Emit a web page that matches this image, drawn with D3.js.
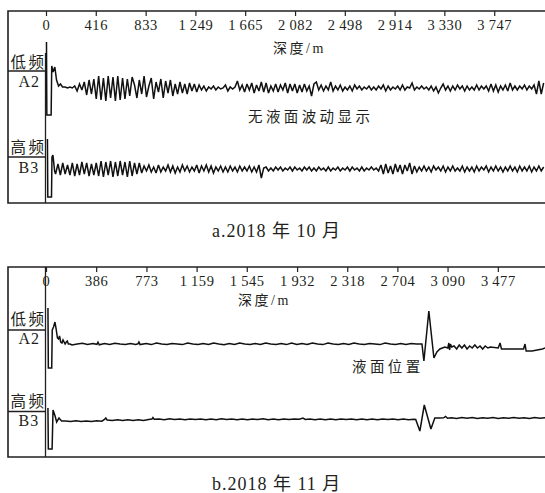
<!DOCTYPE html>
<html>
<head>
<meta charset="utf-8">
<script src="https://cdn.jsdelivr.net/npm/d3@7"></script>
<style>
    body { margin: 0; background: #fff; }
    svg { display: block; }
</style>
</head>
<body>
<svg id="chart"></svg>
<script>
const W = 545, H = 493;
const INK = "#231f20";
const SERIF = '"Liberation Serif", "Noto Sans CJK SC", serif';

// depth tick labels (m)
const ticksOct = [0, 416, 833, 1249, 1665, 2082, 2498, 2914, 3330, 3747];
const ticksNov = [0, 386, 773, 1159, 1545, 1932, 2318, 2704, 3090, 3477];

// Oct 2018, low freq A2: first part as [depth m, amplitude], then samples every 20 m from 160 m
const octA2Head = [[4, 46], [7, -27], [43, -27], [48, 22], [59, 16], [74, 21], [88, 8], [105, 2], [121, 4], [138, 1]];
const octA2Body = [
    1, 0, 1, 0,
    2, -3, 4, -2,
    6, -7, 8, -6, 9,
    -11, 12, -12, 10, -13, 12, -10, 11, -13, 12, -12, 10, -11, 9,
    -8, 11, 3, -10, 8, -6, 12, -9, 2, 10, -11, 6, -4, 9, -10, 7, -5, 8, -8, 4, -6,
    6, -5, 4, -6, 5, -3, 4, -4, 3,
    -2, 2, -3, 1, -1, 2, -2, 1, -1, 0, 3, -3, 1, -1, 1,
    7, -2, 3,
    -4, 4, -2, 5, -5, 3, -3, 6, -4, 5, -5, 2, -3, 4, -4, 3, -2, 5, -5, 4, -3, 4, -5,
    3, -4, 4, -3, 2, -8, 4,
    6, -2, 3, -3, 2,
    -2, 6, -3,
    2, -2, 3, -3, 1, -2, 2, -3, 3, -1, 2, -2, 1, -1, 2, -2, 1, -2, 2, -1, 3, -3, 2, -2, 1, -1, 2, -2, 3, -2, 1,
    0, 5, -2,
    1, -1, 2, -1, 1, -2, 2, -3, 1,
    -5, 0,
    4, -2, 2,
    -3, 2, -2, 3, -1, 2, -3, 2, -2, 1, -2, 3, -2, 2, -1, 2, -3,
    4, -3, 3, -4, 2, -2, 3, -3, 5, -2, 2,
    -2, 2, -1, 3, -2, 2, -1,
    3, -6, 7, -6, 5
];

// Oct 2018, high freq B3: head pairs, then samples every 20 m from 80 m
const octB3Head = [[12, 30], [15, -28], [46, -28], [50, 12], [58, 14], [72, -2]];
const octB3Body = [
    -5, 5, -6, 6, -5, 4, -6, 6, -7, 5, -6, 7, -5, 6, -7, 5, -6, 6,
    -7, 8, -8, 7, -6, 8, -8, 7, -7, 8, -6, 7, -8, 8, -7, 6, -5, 6,
    -4, 3, -2, 4, -3, 2, -4, 4, -3, 2, -2,
    4, -3, 3, -4, 2, -3, 4, -2, 3, -3, 2, -2, 4, -4, 3, -2, 4, -3, 3, -4,
    2, -2, 3, -3, 2, -3, 3, -2, 2, -3, 3, -2, 2, -2, 3, -3, 2, -3, 4,
    -9, 1,
    2, -2, 1, -2, 2, -1, 2, -2, 1, -1, 2, -2, 2, -1, 1, -2, 2, -1, 2, -2, 1, -2, 2, -1,
    1, -2, 2, -2, 1, -1, 2, -2, 1, -1, 2, -2, 2, -1, 1, -2, 2, -2, 1, -1, 2, -1, 1, -2,
    4, -5, 5, -4, 3, -5, 5, -3, 4, -5, 4, -2, 6, -5, 3, -3, 2,
    -2, 3, -2, 2, -3, 3, -1, 2, -2, 3, -3, 2, -2, 3, -2, 1, -2, 3, -3, 2, -2, 2, -3, 3, -2, 2,
    -1, 3, -3, 2, -2, 3, -2, 2, -3, 2, -2, 3, -2, 2, -3, 3, -2, 2, -2, 3, -3, 2, -2, 3, -2, 2
];

// Nov 2018, low freq A2 as [depth m, amplitude]
const novA2 = [
    [15, 36], [18, -24], [44, -24], [48, 14], [58, 17], [69, 22], [78, 15], [88, 6], [96, 5], [104, 8],
    [113, 2], [123, 1], [131, 4], [139, 2], [147, 0], [156, 2], [164, 3], [172, 0], [185, 0], [200, -1],
    [240, 0], [280, 0.8], [320, -0.4], [360, 0.6], [392, -0.3], [400, 1.8], [410, -0.8], [450, 0.4],
    [490, -0.5], [530, 0.8], [570, 0], [610, -0.5], [650, 0.6], [690, -0.4], [708, 0.2], [715, 2],
    [724, -0.6], [770, 0.5], [810, -0.6], [850, 0.9], [890, 0], [930, -0.6], [970, 0.5], [1010, 0],
    [1050, -0.6], [1090, 1], [1130, 0], [1170, -0.6], [1210, 0.5], [1250, -0.5], [1290, 1], [1330, 0],
    [1370, -0.8], [1410, 0.5], [1450, -0.5], [1490, 1], [1530, 0], [1570, -0.6], [1610, 0.5], [1650, -0.5],
    [1690, 1], [1730, 0], [1770, -0.6], [1810, 0.5], [1850, -0.6], [1890, 1], [1930, -0.5], [1970, 0.5],
    [2010, -0.5], [2050, 1], [2090, 0], [2130, -0.6], [2170, 1], [2210, 0], [2250, -0.6], [2290, 0.5],
    [2330, -0.5], [2370, 1], [2410, 0], [2450, -0.6], [2490, 0.5], [2530, 0], [2570, -0.6], [2610, 1],
    [2650, 0], [2690, -0.6], [2730, 0.5], [2770, -0.5], [2810, 0.5], [2850, 0], [2893, 0],
    [2908, -17], [2946, 33], [2985, -14], [3008, -8], [3031, -5], [3069, -3], [3092, -4], [3100, 1],
    [3106, -6], [3112, 0], [3122, -3], [3140, -2], [3160, -5], [3180, -1], [3200, -4], [3220, -1],
    [3240, -5], [3260, -2], [3280, -4], [3300, -1], [3320, -4], [3340, -2], [3360, -5], [3380, -2],
    [3400, -4], [3420, -3], [3480, -4], [3494, 1], [3505, -5], [3540, -5], [3580, -5], [3620, -5],
    [3675, -5], [3686, 0], [3695, -7], [3740, -7], [3780, -6], [3820, -5], [3863, -3]
];

// Nov 2018, high freq B3 as [depth m, amplitude]
const novB3 = [
    [15, 12], [18, -29], [47, -29], [54, 10], [70, 4], [82, -2], [100, 2], [120, -1], [150, -1],
    [190, -1.5], [230, -0.8], [270, -1.5], [310, -1], [350, -1.5], [390, -0.8], [430, -1.2], [450, 0.5],
    [460, 2], [470, 0], [510, -0.5], [550, 0.3], [590, -0.6], [630, 0.2], [670, -0.5], [710, 0.3],
    [750, -0.4], [790, 0.6], [815, 1], [823, 2.5], [832, 0.8], [870, 1], [910, 0.3], [950, 1.2],
    [990, 0.4], [1030, 1], [1070, 0.2], [1110, 1.1], [1150, 0.4], [1190, 1], [1230, 0.2], [1270, 1],
    [1310, 0.3], [1350, 1.2], [1390, 0.4], [1430, 1], [1470, 0.3], [1510, 1.1], [1550, 0.2], [1590, 1],
    [1630, 0.4], [1670, 1.2], [1710, 0.3], [1750, 1], [1790, 0.2], [1830, 1], [1870, 0.4], [1910, 1.1],
    [1950, 0.8], [1977, 2], [1995, 0.5], [2030, 1], [2070, 0.2], [2110, 1], [2150, 0.3], [2190, 1.1],
    [2230, 0.2], [2270, 1], [2310, 0.4], [2350, 1], [2390, 0.2], [2430, 1], [2470, 0.3], [2510, 1.1],
    [2550, 0.2], [2590, 1], [2630, 0.4], [2670, 1], [2710, 0.2], [2750, 1], [2790, 0.3], [2830, 0.8],
    [2845, 0.5], [2877, -11], [2911, 15], [2962, -9], [2992, 2], [3030, 2], [3060, 2.2], [3075, 3.5],
    [3090, 1.8], [3120, 2.3], [3160, 1.6], [3200, 2.4], [3240, 1.7], [3280, 2.5], [3320, 1.6],
    [3360, 2.3], [3400, 1.7], [3440, 2.5], [3480, 1.6], [3520, 2.3], [3560, 1.8], [3600, 2.5],
    [3640, 1.7], [3680, 2.3], [3720, 1.6], [3760, 2.4], [3800, 1.8], [3840, 2.2], [3863, 2]
];

function sampled(head, start, step, values) {
    return head.concat(values.map((v, i) => [start + i * step, v]));
}

const fmt = d3.formatLocale({decimal: ".", thousands: "\u2009", grouping: [3], currency: ["", ""]}).format(",d");

let panels = [
    {
        top: 11, bottom: 203, sepTop: 53, maxDepth: 4163, xRight: 544, ticks: ticksOct,
        axisTitle: {x: 273, y: 52.5},
        caption: {text: "a.2018 年 10 月", x: 212, y: 237},
        note: {text: "无液面波动显示", x: 248, y: 122},
        chans: [
            {name: "低频", id: "A2", nameY: 68, lineY: 71, idY: 87, base: 88, data: sampled(octA2Head, 160, 20, octA2Body)},
            {name: "高频", id: "B3", nameY: 153, lineY: 157, idY: 173, base: 169, data: sampled(octB3Head, 80, 20, octB3Body)}
        ]
    },
    {
        top: 267, bottom: 457, sepTop: 267, maxDepth: 3863, xRight: 548, ticks: ticksNov,
        axisTitle: {x: 238, y: 305},
        caption: {text: "b.2018 年 11 月", x: 212, y: 490},
        note: {text: "液面位置", x: 352, y: 372},
        chans: [
            {name: "低频", id: "A2", nameY: 324.5, lineY: 330, idY: 344, base: 344, data: novA2},
            {name: "高频", id: "B3", nameY: 406.5, lineY: 411.5, idY: 426, base: 420, data: novB3}
        ]
    }
];

let svg = d3.select("#chart")
    .attr("width", W)
    .attr("height", H);

svg.append("rect")
    .attr("width", W)
    .attr("height", H)
    .attr("fill", "#fff");

function label(g, text, x, y, size, spacing) {
    return g.append("text")
        .attr("x", x)
        .attr("y", y)
        .attr("font-family", SERIF)
        .attr("font-size", size)
        .attr("letter-spacing", spacing)
        .attr("fill", INK)
        .text(text);
}

panels.forEach(p => {
    let x = d3.scaleLinear()
        .domain([0, p.maxDepth])
        .range([46, p.xRight]);

    let g = svg.append("g");

    // frame: top, left, bottom (open on the right)
    g.append("path")
        .attr("d", `M${W},${p.top}H8V${p.bottom}H${W}`)
        .attr("fill", "none")
        .attr("stroke", INK)
        .attr("stroke-width", 1.6);

    let ax = g.append("g")
        .attr("transform", `translate(0,${p.top})`)
        .call(d3.axisBottom(x)
            .tickValues(p.ticks)
            .tickSize(5)
            .tickSizeOuter(0)
            .tickPadding(4)
            .tickFormat(fmt));
    ax.select(".domain").remove();
    ax.selectAll(".tick line")
        .attr("stroke", INK)
        .attr("stroke-width", 1.2);
    ax.selectAll(".tick text")
        .attr("font-family", SERIF)
        .attr("font-size", 14.5)
        .attr("letter-spacing", 0.6)
        .attr("fill", INK);

    label(g, "深度/m", p.axisTitle.x, p.axisTitle.y, 14, 2.5);

    // channel label column
    g.append("line")
        .attr("x1", 45.5).attr("x2", 45.5)
        .attr("y1", p.sepTop).attr("y2", p.bottom)
        .attr("stroke", INK)
        .attr("stroke-width", 1.3);

    p.chans.forEach(c => {
        g.append("line")
            .attr("x1", 8).attr("x2", 45.5)
            .attr("y1", c.lineY).attr("y2", c.lineY)
            .attr("stroke", INK)
            .attr("stroke-width", 1.3);
        label(g, c.name, 10.5, c.nameY, 15.5, 2.5);
        label(g, c.id, 18.5, c.idY, 16, 1);

        let y = d3.scaleLinear()
            .domain([-50, 50])
            .range([c.base + 50, c.base - 50]);

        let line = d3.line()
            .x(d => x(d[0]))
            .y(d => y(d[1]));

        g.append("path")
            .datum(c.data)
            .attr("d", line)
            .attr("fill", "none")
            .attr("stroke", "#111")
            .attr("stroke-width", 1.5)
            .attr("stroke-linejoin", "miter")
            .attr("stroke-miterlimit", 3);
    });

    label(g, p.note.text, p.note.x, p.note.y, 14.5, 3.4);
    label(g, p.caption.text, p.caption.x, p.caption.y, 18, 1);
});
</script>
</body>
</html>
